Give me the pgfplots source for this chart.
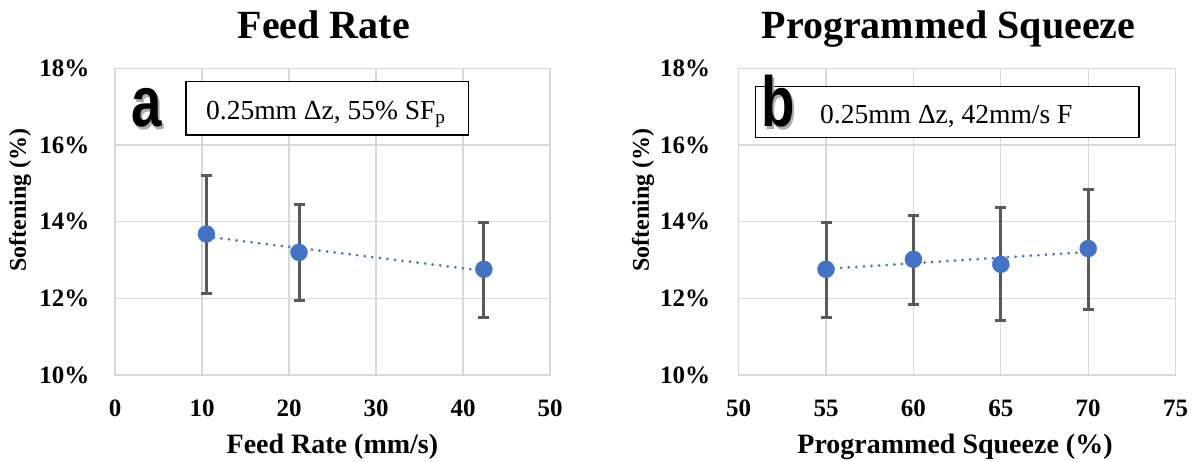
\documentclass[border=0pt]{standalone}
\usepackage{fontspec}
\setmainfont{Liberation Serif}
\newfontfamily\lsans{Liberation Sans}
\usepackage{graphicx}
\usepackage{pgfplots}
\pgfplotsset{compat=1.18}
\definecolor{gridgray}{HTML}{D9D9D9}
\definecolor{errgray}{HTML}{595959}
\definecolor{ptblue}{HTML}{4472C4}
\pgfplotsset{
  myax/.style={
    anchor=south west, scale only axis, height=306.5pt,
    ymin=10, ymax=18, ytick={10,12,...,18},
    grid=major, grid style={draw=gridgray, line width=1.3pt},
    axis line style={draw=gridgray, line width=1.3pt},
    major tick length=0pt,
    ticklabel style={font=\fontsize{25}{25}\selectfont\bfseries},
    /pgf/number format/assume math mode=true,
    yticklabel={\pgfmathprintnumber{\tick}\%},
    xticklabel style={anchor=base, yshift=-42pt},
    clip=false,
  },
  ptstyle/.style={only marks, mark=*, mark size=8.5pt, color=ptblue,
    error bars/.cd, y dir=both, y explicit,
    error bar style={line width=3pt, color=errgray},
    error mark options={rotate=90, line width=3pt, mark size=5.5pt, color=errgray}},
  trend/.style={ptblue, line width=3pt, line cap=round, dash pattern=on 0pt off 7.6pt, no marks},
}
\newcommand{\shadowletter}[1]{\rlap{\kern2.5pt\raisebox{-2.5pt}{\textcolor{gray!65}{\scalebox{0.77}[1]{#1}}}}\scalebox{0.77}[1]{#1}}
\begin{document}
\begin{tikzpicture}
\path[use as bounding box] (0pt,0pt) rectangle (1198pt,462pt);
% ---------- panel a ----------
\begin{axis}[myax, at={(115pt,87pt)}, width=435pt,
  xmin=0, xmax=50, xtick={0,10,...,50},
  yticklabel style={anchor=east, xshift=-22pt}]
\addplot[trend] coordinates {(10.5,13.61) (42.4,12.72)};
\addplot[ptstyle] coordinates {
  (10.5,13.68) += (0,1.52) -= (0,1.55)
  (21.15,13.20) += (0,1.26) -= (0,1.26)
  (42.4,12.76) += (0,1.22) -= (0,1.27)
};
\end{axis}
% ---------- panel b ----------
\begin{axis}[myax, at={(738.6pt,87pt)}, width=437pt,
  xmin=50, xmax=75, xtick={50,55,...,75},
  yticklabel style={anchor=east, xshift=-25pt}]
\addplot[trend] coordinates {(55,12.77) (70,13.21)};
\addplot[ptstyle] coordinates {
  (55,12.76) += (0,1.22) -= (0,1.27)
  (60,13.02) += (0,1.14) -= (0,1.18)
  (65,12.89) += (0,1.49) -= (0,1.47)
  (70,13.30) += (0,1.55) -= (0,1.58)
};
\end{axis}
% titles
\node[anchor=base, font=\fontsize{40}{40}\selectfont\bfseries] at (323.8pt,423pt) {Feed Rate};
\node[anchor=base, font=\fontsize{40}{40}\selectfont\bfseries] at (948.5pt,423pt) {Programmed Squeeze};
% x labels
\node[anchor=base, font=\fontsize{28}{28}\selectfont\bfseries] at (332.4pt,8pt) {Feed Rate (mm/s)};
\node[anchor=base, font=\fontsize{28}{28}\selectfont\bfseries] at (955pt,8pt) {Programmed Squeeze (\%)};
% y labels
\node[rotate=90, font=\fontsize{24}{24}\selectfont\bfseries] at (20pt,262pt) {Softening (\%)};
\node[rotate=90, font=\fontsize{24}{24}\selectfont\bfseries] at (643pt,262pt) {Softening (\%)};
% text boxes
\draw[line width=1.5pt, fill=white] (186pt,327pt) rectangle (468.3pt,380.3pt);
\node[anchor=base west, inner sep=0pt, font=\fontsize{27.5}{27.5}\selectfont] at (206pt,342.7pt) {0.25mm Δz, 55\% SF\textsubscript{p}};
\draw[line width=1.5pt, fill=white] (755.7pt,324.7pt) rectangle (1139pt,375.3pt);
\node[anchor=base west, inner sep=0pt, font=\fontsize{27.5}{27.5}\selectfont] at (820pt,338.7pt) {0.25mm Δz, 42mm/s F};
% panel letters with shadow
\node[anchor=base west, inner sep=0pt, font=\fontsize{71}{71}\selectfont\lsans\bfseries] at (131pt,335pt) {\shadowletter{a}};
\node[anchor=base west, inner sep=0pt, font=\fontsize{71}{71}\selectfont\lsans\bfseries] at (761pt,335pt) {\shadowletter{b}};
\end{tikzpicture}
\end{document}
